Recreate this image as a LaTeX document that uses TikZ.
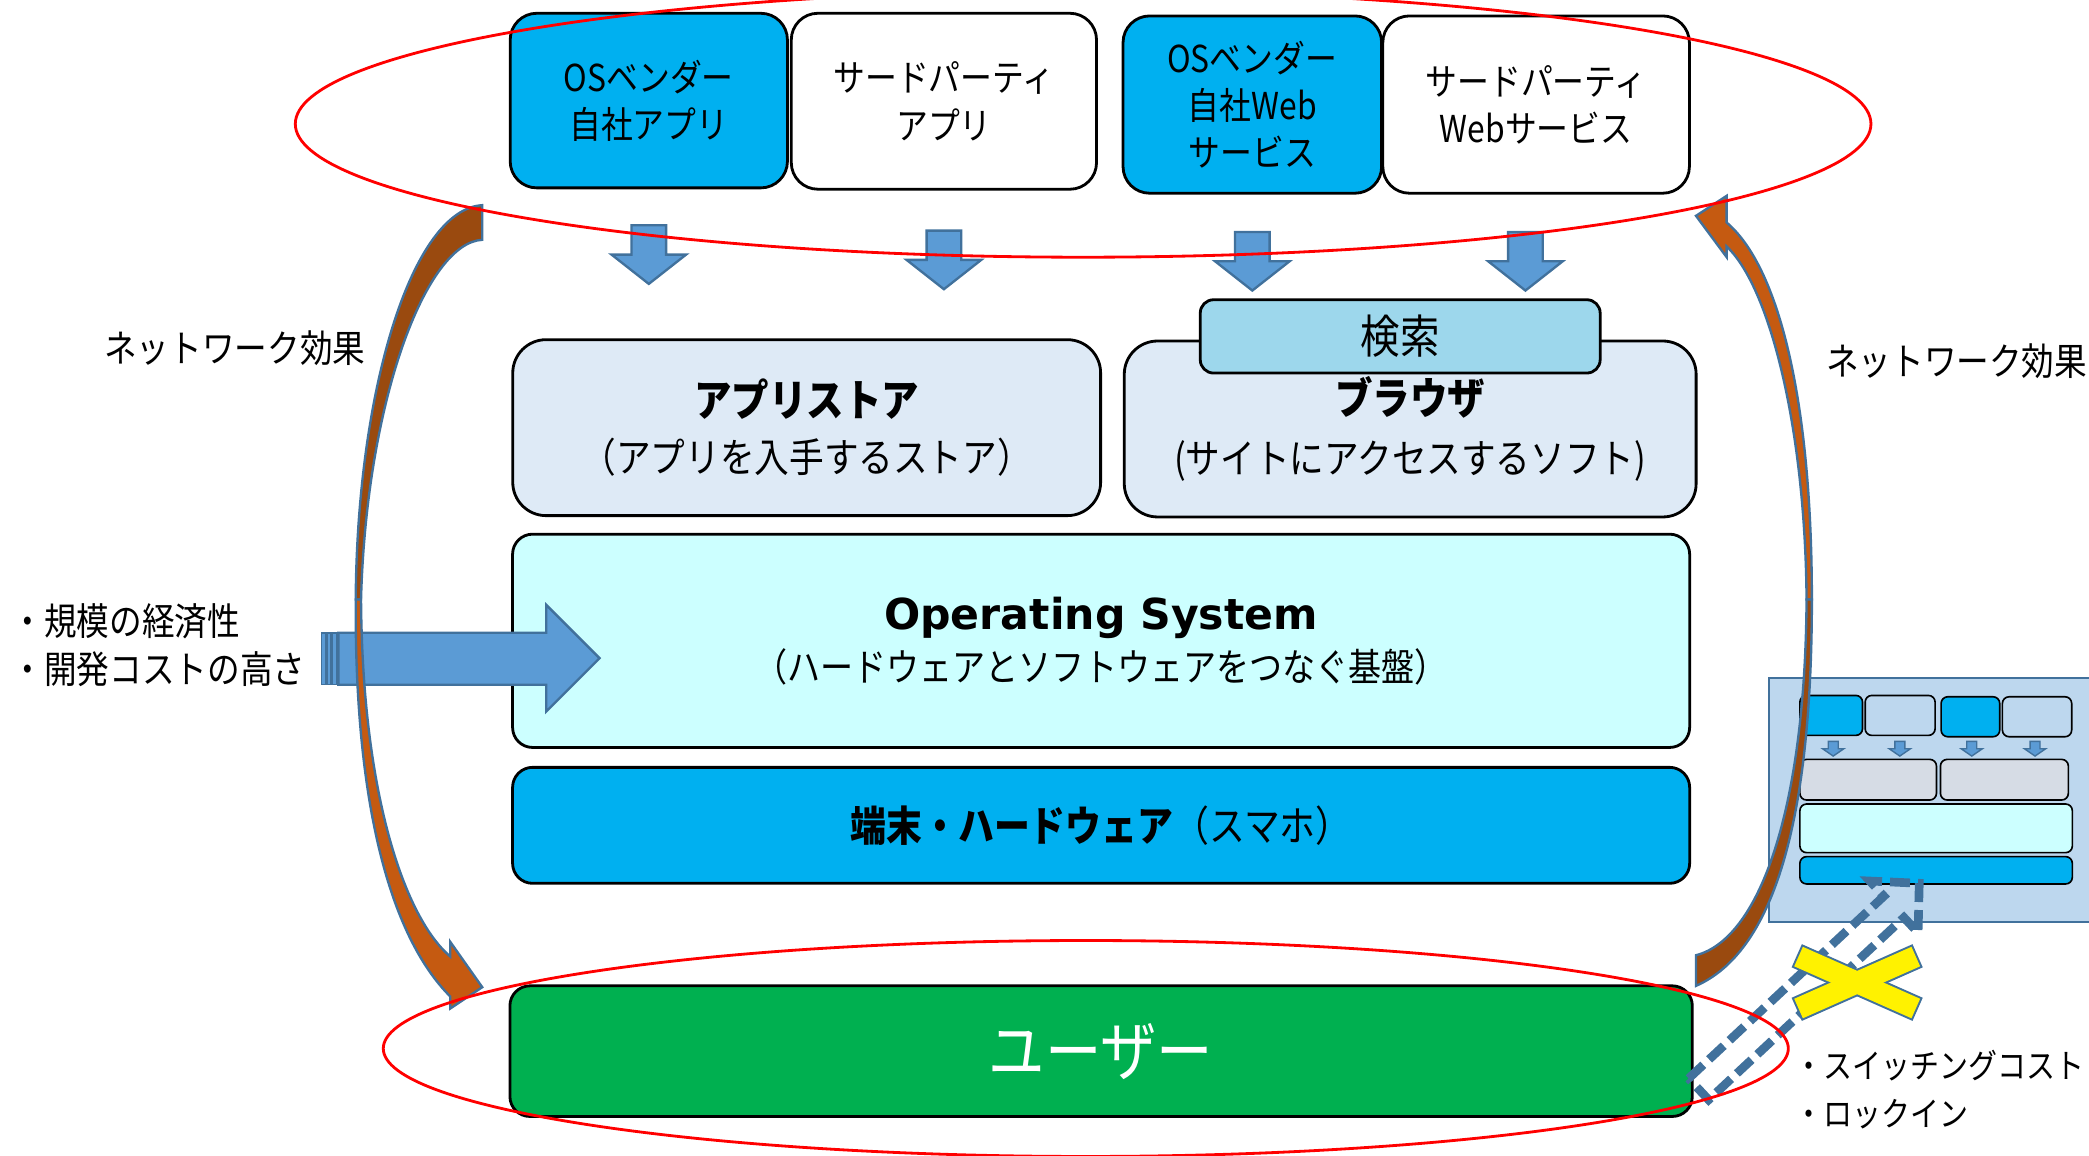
\documentclass[tikz,border=0pt]{standalone}
\usepackage{fontspec}
\setmainfont{Noto Sans CJK JP}[FakeStretch=0.86]
\newfontfamily\latinfont{DejaVu Sans}
\usetikzlibrary{calc}
\pgfdeclarelayer{bg}
\pgfdeclarelayer{fg}
\pgfsetlayers{bg,main,fg}
\definecolor{osblue}{HTML}{00B0F0}
\definecolor{storebg}{HTML}{DEEAF6}
\definecolor{searchbg}{HTML}{9DD7EC}
\definecolor{oscyan}{HTML}{CCFFFF}
\definecolor{usergreen}{HTML}{00B050}
\definecolor{arrfill}{HTML}{5B9BD5}
\definecolor{arredge}{HTML}{41719C}
\definecolor{darkbrown}{HTML}{9A4A0F}
\definecolor{orangebrown}{HTML}{C55A11}
\definecolor{insetbg}{HTML}{BDD7EE}
\definecolor{minigrey}{HTML}{D6DCE5}
\tikzset{
    box/.style={draw, line width=0.6pt, rounded corners=0.2cm, inner sep=0pt, align=center},
    topbox/.style={box, font=\fontsize{7.9}{10.1}\selectfont},
    blkarrow/.style={fill=arrfill, draw=arredge, line width=0.5pt, line join=miter},
    bentarrow/.style={draw=arredge, line width=0.5pt},
    mini/.style={draw, line width=0.35pt, rounded corners=0.05cm},
    lbl/.style={inner sep=0pt, align=left, font=\fontsize{8.1}{10.2}\selectfont},
    netloop/.style={draw=red, line width=0.6pt}
}

\begin{document}
\begin{tikzpicture}[x=0.01cm, y=-0.01cm]
    \useasboundingbox (0,0) rectangle (1568,867);

    \node (b1) [topbox, fill=osblue, minimum width=2.08cm, minimum height=1.31cm] at (487,75.5) {OSベンダー\\自社アプリ};
    \node (b2) [topbox, fill=white, minimum width=2.29cm, minimum height=1.32cm] at (708.5,76) {サードパーティ\\アプリ};
    \node (b3) [topbox, fill=osblue, minimum width=1.94cm, minimum height=1.33cm] at (940,78.5) {OSベンダー\\自社Web\\サービス};
    \node (b4) [topbox, fill=white, minimum width=2.30cm, minimum height=1.33cm] at (1153,78.5) {サードパーティ\\Webサービス};

    \foreach \b/\dx/\dy in {b1/0/27, b2/0/30, b3/0/28, b4/-8/28}
        \draw[blkarrow] (\b.south) ++(\dx-13,\dy) -- ++(26,0) -- ++(0,22) -- ++(15,0) -- ++(-28,22) -- ++(-28,-22) -- ++(15,0) -- cycle;

    \node (store) [box, fill=storebg, rounded corners=0.25cm, minimum width=4.41cm, minimum height=1.32cm, font=\fontsize{8.6}{12}\selectfont] at (605.5,321)
        {{\fontsize{9.3}{12}\selectfont\bfseries アプリストア}\\（アプリを入手するストア）};
    \node (browser) [box, fill=storebg, rounded corners=0.25cm, minimum width=4.29cm, minimum height=1.32cm, font=\fontsize{8.6}{12.5}\selectfont] at (1058.5,322)
        {{\fontsize{9.3}{12}\selectfont\bfseries ブラウザ}\\(サイトにアクセスするソフト)};
    \node (search) [box, fill=searchbg, rounded corners=0.1cm, minimum width=3cm, minimum height=0.55cm, font=\fontsize{9.8}{11}\selectfont] at (1051,252.5) {検索};
    \node (os) [box, fill=oscyan, rounded corners=0.15cm, minimum width=8.83cm, minimum height=1.6cm, font=\fontsize{8.2}{11.1}\selectfont] at (826.5,481)
        {{\latinfont\fontsize{9.1}{11}\selectfont\bfseries Operating System}\\（ハードウェアとソフトウェアをつなぐ基盤）};
    \node (hw) [box, fill=osblue, rounded corners=0.15cm, minimum width=8.83cm, minimum height=0.87cm, font=\fontsize{8.9}{10}\selectfont] at (826.5,619.5)
        {{\bfseries 端末・ハードウェア}（スマホ）};
    \node (user) [box, fill=usergreen, text=white, rounded corners=0.15cm, minimum width=8.87cm, minimum height=0.98cm, font=\fontsize{14}{16}\selectfont] at (826.5,789) {ユーザー};

    \node (netL) [lbl, anchor=east] at (275,261) {ネットワーク効果};
    \node (netR) [lbl, anchor=west] at (1370,271) {ネットワーク効果};
    \node (econ) [lbl, anchor=west] at (8,484) {・規模の経済性\\・開発コストの高さ};
    \node (switch) [lbl, anchor=west, font=\fontsize{7.2}{10.2}\selectfont] at (1346,818) {・スイッチングコスト\\・ロックイン};

    \draw[blkarrow] (254,475) -- (410,475) -- (410,454) -- (450,494) -- (410,534) -- (410,514) -- (254,514) -- cycle;
    \foreach \sx in {241.5, 245.5, 249.5}
        \draw[blkarrow, line width=0.3pt] (\sx,475) rectangle ++(3,39);

    \draw[bentarrow, fill=darkbrown] (362,154) .. controls (310,157) and (268,290) .. (267,450)
        -- (271,450) .. controls (275,300) and (320,182) .. (362,180) -- cycle;
    \draw[bentarrow, fill=orangebrown] (267,450) .. controls (266,610) and (295,705) .. (338,748)
        -- (338,757) -- (362,741) -- (338,707) -- (338,718) .. controls (305,690) and (272,600) .. (271,450) -- cycle;

    \node (inset) [draw=arredge, fill=insetbg, line width=0.5pt, inner sep=0pt, minimum width=2.6cm, minimum height=1.83cm] at (1458,600.5) {};
    \foreach \xa/\ya/\xb/\yb/\c in {1351/522/1398/552/osblue, 1400/522/1452.5/552/insetbg,
        1457/523/1501/553/osblue, 1503/523/1555/553/insetbg, 1351/570/1453.5/600.5/minigrey,
        1456.5/570/1552.5/600.5/minigrey, 1351/603.5/1555.5/640/oscyan, 1351/643/1555.5/663.5/osblue}
        \draw[mini, fill=\c] (\xa,\ya) rectangle (\xb,\yb);
    \foreach \x in {1376, 1426, 1480, 1527.5}
        \draw[blkarrow, line width=0.3pt] (\x-3.75,556.5) -- ++(7.5,0) -- ++(0,5.5) -- ++(4.25,0) -- ++(-8,5.5) -- ++(-8,-5.5) -- ++(4.25,0) -- cycle;

    \draw[bentarrow, fill=orangebrown] (1360,450) .. controls (1360,300) and (1335,200) .. (1296,167)
        -- (1296,147) -- (1273,162) -- (1296,193) -- (1296,185) .. controls (1328,215) and (1355,320) .. (1356,450) -- cycle;
    \draw[bentarrow, fill=darkbrown] (1360,450) .. controls (1360,620) and (1330,715) .. (1273,740)
        -- (1273,717) .. controls (1320,705) and (1355,610) .. (1356,450) -- cycle;

    \draw[arredge, line width=0.065cm, dash pattern=on 0.15cm off 0.06cm, line join=miter]
        (1267.5,809.5) -- (1414,672.7) -- (1403.5,661.3) -- (1440.6,663) -- (1439.7,700.1) -- (1429.1,688.7) -- (1282.5,825.5) -- cycle;

    \draw[arredge, line width=0.19cm, shorten <=-0.015cm, shorten >=-0.015cm] (1350,718) -- (1438,757);
    \draw[arredge, line width=0.19cm, shorten <=-0.015cm, shorten >=-0.015cm] (1350,757) -- (1438,718);
    \draw[yellow, line width=0.16cm] (1350,718) -- (1438,757);
    \draw[yellow, line width=0.16cm] (1350,757) -- (1438,718);

    \begin{pgfonlayer}{fg}
        \draw[netloop] (813,93) ellipse [x radius=5.91cm, y radius=1cm];
        \draw[netloop] (815,787) ellipse [x radius=5.27cm, y radius=0.81cm];
    \end{pgfonlayer}
\end{tikzpicture}
\end{document}
